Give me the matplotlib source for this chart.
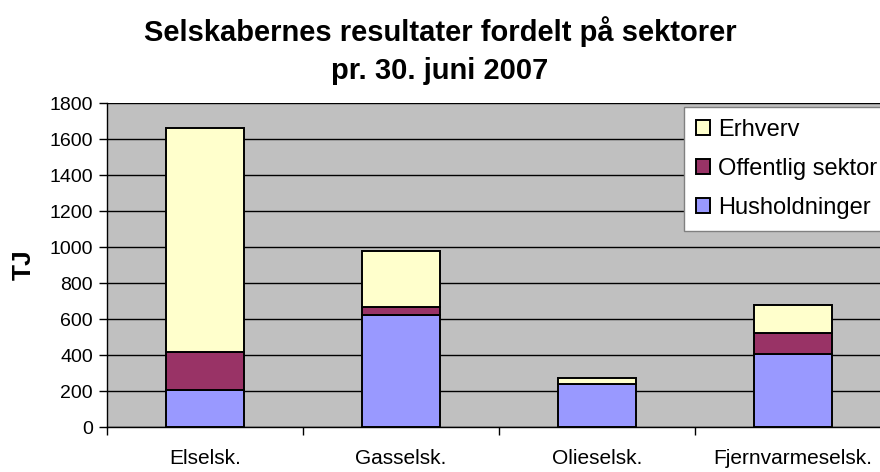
import matplotlib
matplotlib.use("Agg")
import matplotlib.pyplot as plt
import numpy as np

plt.rcParams['font.family'] = ['Liberation Sans', 'DejaVu Sans']

categories = ["Elselsk.", "Gasselsk.", "Olieselsk.", "Fjernvarmeselsk."]
husholdninger = [205, 620, 238, 405]
offentlig = [210, 45, 2, 115]
erhverv = [1245, 315, 31, 157]
yticks = [0, 200, 400, 600, 800, 1000, 1200, 1400, 1600, 1800]

fig = plt.figure(figsize=(8.8, 4.72), dpi=100)
ax = fig.add_axes([107/880, 45/472, 784/880, 324/472])
ax.set_facecolor('#C0C0C0')

x = np.arange(len(categories))
w = 0.40
h = np.array(husholdninger)
o = np.array(offentlig)
e = np.array(erhverv)
b1 = ax.bar(x, h, w, color='#9999FF', edgecolor='black', linewidth=1.4, label='Husholdninger', zorder=3)
b2 = ax.bar(x, o, w, bottom=h, color='#993366', edgecolor='black', linewidth=1.4, label='Offentlig sektor', zorder=3)
b3 = ax.bar(x, e, w, bottom=h + o, color='#FFFFCC', edgecolor='black', linewidth=1.4, label='Erhverv', zorder=3)

ax.set_xlim(-0.5, 3.5)
ax.set_ylim(0, 1800)
ax.set_yticks(yticks)
ax.set_yticklabels([str(v) for v in yticks], fontsize=14)
ax.yaxis.grid(True, color='black', linewidth=1.0, zorder=1)
ax.set_axisbelow(True)

ax.set_xticks(x)
ax.set_xticklabels(categories, fontsize=15)
ax.set_xticks(np.arange(-0.5, 3.6, 1.0), minor=True)
ax.tick_params(axis='x', which='major', length=0, pad=16)
ax.tick_params(axis='x', which='minor', length=6, width=1, color='black', direction='out')
ax.tick_params(axis='y', length=6, width=1, color='black', direction='out', pad=4)

for s in ['top', 'right']:
    ax.spines[s].set_visible(False)
ax.spines['left'].set_color('black')
ax.spines['bottom'].set_color('black')
ax.spines['left'].set_linewidth(1)
ax.spines['bottom'].set_linewidth(1)

ax.set_ylabel('TJ', fontsize=19, fontweight='bold', labelpad=10)

fig.suptitle('Selskabernes resultater fordelt på sektorer\npr. 30. juni 2007',
             fontsize=21, fontweight='bold', y=0.965, linespacing=1.45)

handles = [b3, b2, b1]
labels = ['Erhverv', 'Offentlig sektor', 'Husholdninger']
leg = fig.legend(handles, labels, loc='upper left', bbox_to_anchor=(684/880, 1 - 107/472),
                 fontsize=17, frameon=True, fancybox=False, edgecolor='#808080',
                 framealpha=1, handlelength=0.6, handleheight=0.6, handletextpad=0.35,
                 labelspacing=0.72, borderpad=0.5, borderaxespad=0)
leg.get_frame().set_linewidth(1)

fig.savefig('out.png', dpi=100)
